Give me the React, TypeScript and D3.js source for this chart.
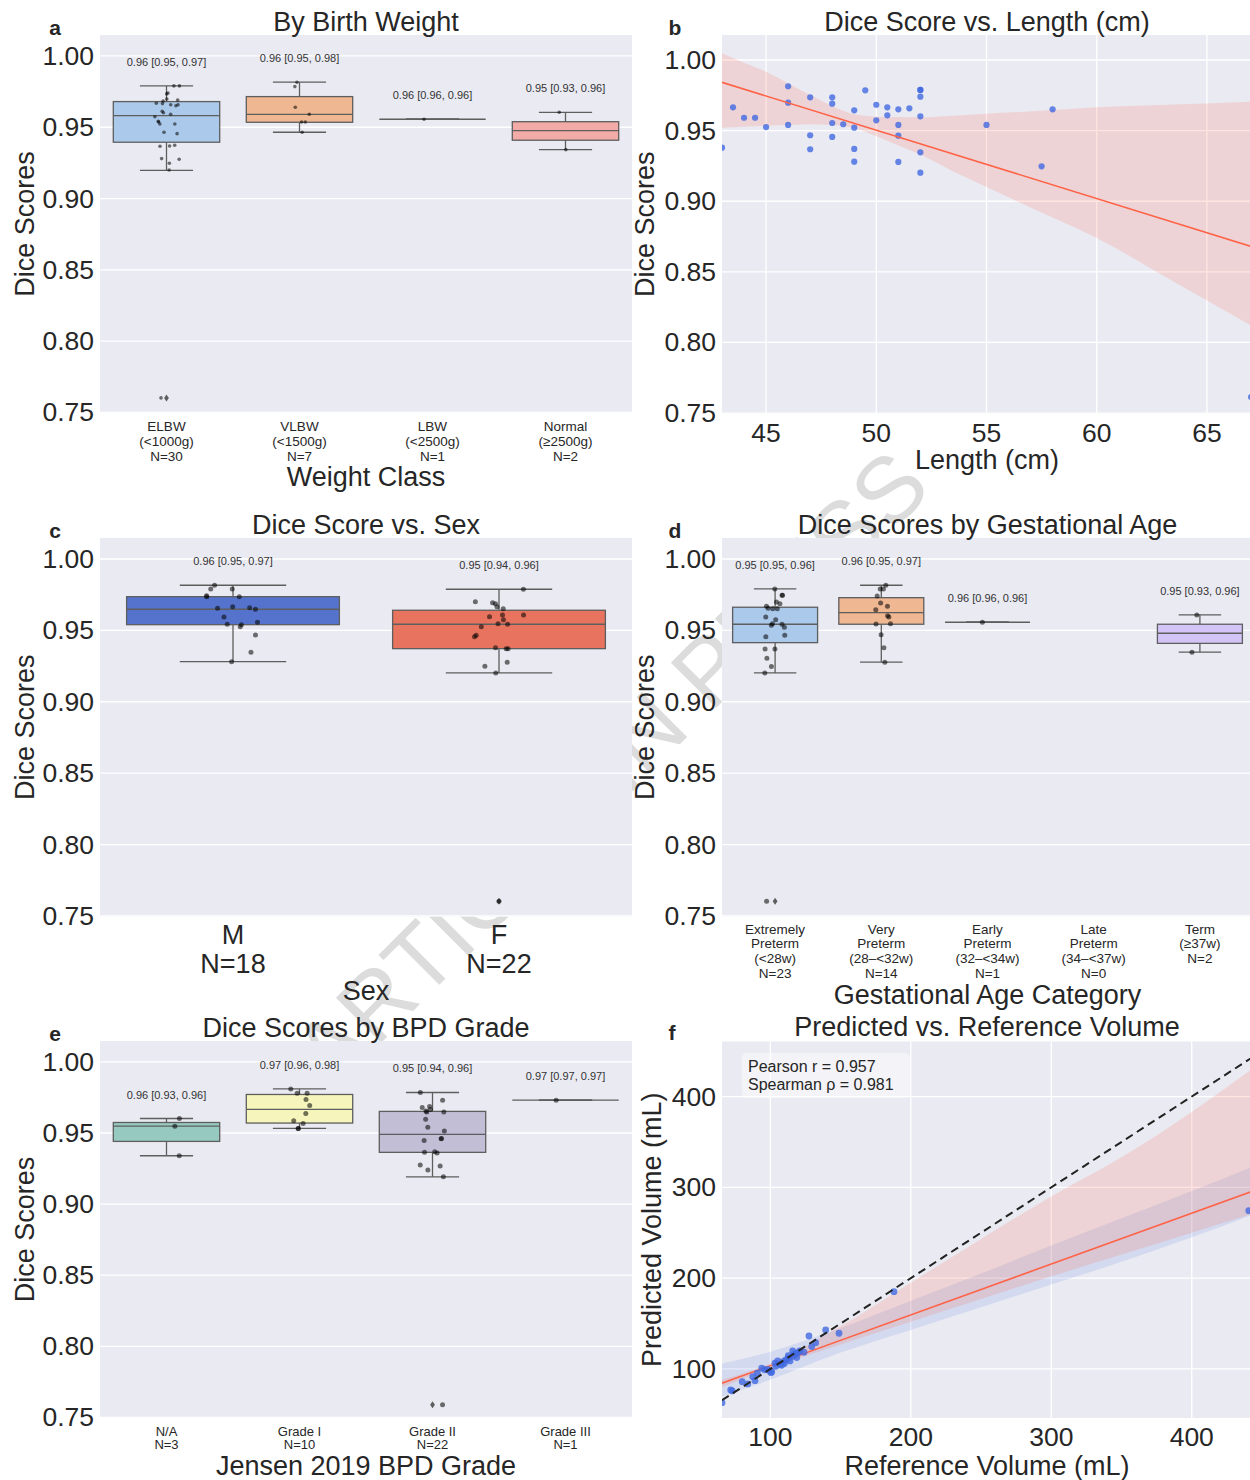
import React from "react";
import * as d3 from "d3";

const FONT = "'Liberation Sans', Arial, Helvetica, sans-serif";
const INK = "#262626";
const BG = "#EAEAF2";
const BOXLINE = "#5e5e5e";

// ---------- shared ----------
const diceTicks = [0.75, 0.8, 0.85, 0.9, 0.95, 1.0];

// ---------- a: birth weight ----------
const weightLabels = [["ELBW", "(<1000g)", "N=30"], ["VLBW", "(<1500g)", "N=7"], ["LBW", "(<2500g)", "N=1"], ["Normal", "(≥2500g)", "N=2"]];
const weightColors = ["#a1c9f4", "#ffb482", "#8de5a1", "#ff9f9b"];
const weightNotes = ["0.96 [0.95, 0.97]", "0.96 [0.95, 0.98]", "0.96 [0.96, 0.96]", "0.95 [0.93, 0.96]"];
const weightBoxes = [
  { q1: 0.9395, med: 0.9581, q3: 0.968, lo: 0.9198, hi: 0.979 },
  { q1: 0.9535, med: 0.9591, q3: 0.9715, lo: 0.9465, hi: 0.9816 },
  { q1: 0.9556, med: 0.9556, q3: 0.9556, lo: 0.9556, hi: 0.9556 },
  { q1: 0.9409, med: 0.9476, q3: 0.9539, lo: 0.9343, hi: 0.9605 },
];
const weightFliers = [[0.7602], [], [], []];
const weightPoints = [
  [0.979, 0.979, 0.9734, 0.974, 0.9691, 0.9698, 0.9684, 0.9668, 0.9658, 0.9658, 0.9651, 0.9602, 0.9591, 0.9574, 0.9542,
    0.9537, 0.9523, 0.9523, 0.9465, 0.9455, 0.9374, 0.9369, 0.9367, 0.928, 0.9276, 0.9248, 0.92, 0.7602, 0.9666, 0.9612],
  [0.9816, 0.9785, 0.964, 0.9591, 0.9537, 0.9537, 0.9465],
  [0.9556],
  [0.9605, 0.9343],
];

// ---------- b: length ----------
const lengthCm = [43, 43.5, 44, 44.5, 45, 46, 46, 46, 47, 47, 47, 48, 48, 48, 48, 48.5, 49, 49, 49, 49, 49.5, 50, 50, 50.5,
  50.5, 51, 51, 51, 51, 51.5, 52, 52, 52, 52, 52, 52, 55, 57.5, 58, 67];
const lengthDice = [0.9379, 0.9665, 0.9591, 0.9591, 0.9525, 0.9814, 0.9698, 0.954, 0.9736, 0.9467, 0.9368, 0.9736, 0.9691,
  0.9554, 0.9455, 0.9545, 0.9644, 0.9521, 0.937, 0.928, 0.9785, 0.9683, 0.9573, 0.9665, 0.9608, 0.9651, 0.954, 0.9464,
  0.9278, 0.9658, 0.9788, 0.9788, 0.974, 0.9601, 0.9346, 0.9202, 0.954, 0.9247, 0.9651, 0.7613];
const lengthTicks = [45, 50, 55, 60, 65];
const lengthFitX = [43, 67];
const lengthFitY = [0.9842, 0.868];
const lengthBandX = [43, 44, 45, 46, 47, 48, 49, 50, 51, 52, 53.5, 55, 57.5, 60, 63.5, 67];
const lengthBandHi = [1.0047, 0.998, 0.9917, 0.9835, 0.9752, 0.9674, 0.9615, 0.9599, 0.9596, 0.9594, 0.9605, 0.962, 0.964,
  0.9665, 0.9685, 0.9705];
const lengthBandLo = [0.952, 0.9528, 0.9535, 0.954, 0.9545, 0.954, 0.9518, 0.946, 0.9395, 0.933, 0.921, 0.91, 0.892, 0.874,
  0.843, 0.812];

// ---------- c: sex ----------
const sexLabels = [["M", "N=18"], ["F", "N=22"]];
const sexColors = ["royalblue", "tomato"];
const sexNotes = ["0.96 [0.95, 0.97]", "0.95 [0.94, 0.96]"];
const sexBoxes = [
  { q1: 0.954, med: 0.9648, q3: 0.9736, lo: 0.9281, hi: 0.9816 },
  { q1: 0.9372, med: 0.9543, q3: 0.9641, lo: 0.9202, hi: 0.9788 },
];
const sexFliers = [[], [0.7603]];
const sexPoints = [
  [0.979, 0.979, 0.9816, 0.9736, 0.9736, 0.9743, 0.9655, 0.9666, 0.9659, 0.9648, 0.9594, 0.9543, 0.9526, 0.9557, 0.954,
    0.9468, 0.9347, 0.9281],
  [0.9788, 0.9687, 0.9701, 0.9694, 0.9666, 0.9652, 0.9608, 0.9608, 0.9596, 0.9575, 0.9547, 0.9543, 0.9526, 0.9466, 0.9456,
    0.9372, 0.9379, 0.9372, 0.9277, 0.9249, 0.9202, 0.7603],
];

// ---------- d: gestational age ----------
const gaLabels = [
  ["Extremely", "Preterm", "(<28w)", "N=23"],
  ["Very", "Preterm", "(28–<32w)", "N=14"],
  ["Early", "Preterm", "(32–<34w)", "N=1"],
  ["Late", "Preterm", "(34–<37w)", "N=0"],
  ["Term", "(≥37w)", "N=2"],
];
const gaColors = ["#a1c9f4", "#ffb482", "#8de5a1", "#ff9f9b", "#d0bbff"];
const gaNotes = ["0.95 [0.95, 0.96]", "0.96 [0.95, 0.97]", "0.96 [0.96, 0.96]", "", "0.95 [0.93, 0.96]"];
const gaBoxes = [
  { q1: 0.9414, med: 0.9543, q3: 0.9662, lo: 0.9202, hi: 0.979 },
  { q1: 0.9543, med: 0.9624, q3: 0.9729, lo: 0.9277, hi: 0.9816 },
  { q1: 0.9557, med: 0.9557, q3: 0.9557, lo: 0.9557, hi: 0.9557 },
  null,
  { q1: 0.9409, med: 0.948, q3: 0.9543, lo: 0.9347, hi: 0.9608 },
];
const gaFliers = [[0.7603], [], [], [], []];
const gaPoints = [
  [0.979, 0.9746, 0.9746, 0.9699, 0.9687, 0.9669, 0.9655, 0.9652, 0.9652, 0.9594, 0.9575, 0.9543, 0.9536, 0.9547, 0.9522,
    0.9466, 0.9456, 0.937, 0.937, 0.9305, 0.9247, 0.9202, 0.7603],
  [0.9816, 0.979, 0.979, 0.9741, 0.9692, 0.9669, 0.9645, 0.9603, 0.9594, 0.9545, 0.9547, 0.947, 0.9379, 0.9277],
  [0.9557],
  [],
  [0.9608, 0.9347],
];

// ---------- e: BPD grade ----------
const bpdLabels = [["N/A", "N=3"], ["Grade I", "N=10"], ["Grade II", "N=22"], ["Grade III", "N=1"]];
const bpdColors = ["#8dd3c7", "#ffffb3", "#bebada", "#fb8072"];
const bpdNotes = ["0.96 [0.93, 0.96]", "0.97 [0.96, 0.98]", "0.95 [0.94, 0.96]", "0.97 [0.97, 0.97]"];
const bpdBoxes = [
  { q1: 0.9441, med: 0.9548, q3: 0.9574, lo: 0.934, hi: 0.9602 },
  { q1: 0.957, med: 0.9666, q3: 0.9771, lo: 0.9532, hi: 0.981 },
  { q1: 0.9364, med: 0.949, q3: 0.9652, lo: 0.9192, hi: 0.9785 },
  { q1: 0.9731, med: 0.9731, q3: 0.9731, lo: 0.9731, hi: 0.9731 },
];
const bpdFliers = [[], [], [0.759], []];
const bpdPoints = [
  [0.9602, 0.9548, 0.934],
  [0.981, 0.978, 0.978, 0.9736, 0.9694, 0.9638, 0.9586, 0.9567, 0.9532, 0.9532],
  [0.9785, 0.9731, 0.9687, 0.968, 0.9666, 0.9647, 0.9654, 0.9647, 0.9596, 0.9541, 0.9515, 0.9459, 0.9448, 0.9462, 0.9364,
    0.9359, 0.9368, 0.9275, 0.9268, 0.924, 0.9192, 0.759],
  [0.9731],
];

// ---------- f: volumes ----------
const refVolume = [65.6, 71.8, 72.9, 80, 83.9, 87.5, 89.1, 90.7, 93.9, 99.3, 100.5, 101, 103.3, 105.3, 106.9, 108, 109.3, 111,
  112.8, 114, 115.9, 117, 118.3, 118.8, 120, 124, 127.5, 129.5, 132.3, 139.4, 148.9, 188, 440.6, 96, 104, 113, 116, 121, 98, 110];
const predVolume = [62.9, 76.9, 75.8, 86, 83.5, 91.5, 87.1, 95.3, 100.8, 98.1, 95.9, 97, 106.3, 108.8, 105.2, 104, 108, 110,
  114.6, 108.8, 119.8, 116, 117.3, 112.5, 118, 118.4, 136.3, 124.6, 129, 143, 139.3, 185.1, 274.3, 99, 103, 112, 114, 120, 99.5, 106];
const volTicks = [100, 200, 300, 400];
const volFitX = [65.6, 443.6];
const volFitY = [84.3, 296];
const volBandX = [65.6, 100, 150, 200, 250, 300, 350, 400, 443.6];
const volRedHi = [88, 106, 147, 195, 243, 290, 333, 383, 431];
const volRedLo = [80, 101, 127, 152, 177, 202, 226, 250, 271];
const volBlueHi = [106, 119, 145, 175, 205, 236, 266, 296, 323];
const volBlueLo = [69.5, 88, 118, 143, 168, 193, 218, 245, 270];
const statLines = ["Pearson r = 0.957", "Spearman ρ = 0.981"];

const desat = (c: string, f = 0.75) => {
  const h = d3.hsl(c);
  h.s *= f;
  return h.formatHex();
};

type Box = { q1: number; med: number; q3: number; lo: number; hi: number } | null;

function Title({ x, y, text, letter, lx }: any) {
  return (
    <g fontFamily={FONT} fill={INK}>
      <text x={x} y={y} fontSize={27} textAnchor="middle" dominantBaseline="central">{text}</text>
      <text x={lx} y={y + 5} fontSize={21} fontWeight="bold" textAnchor="middle" dominantBaseline="central">{letter}</text>
    </g>
  );
}

function YAxis({ y, ticks, left, right, fmt, label, labelX }: any) {
  const [b, t] = y.range();
  return (
    <g fontFamily={FONT} fill={INK}>
      {ticks.map((v: number) => (
        <g key={v}>
          <line x1={left} x2={right} y1={y(v)} y2={y(v)} stroke="#fff" strokeWidth={1.3} />
          <text x={left - 6} y={y(v)} fontSize={26.5} textAnchor="end" dominantBaseline="central">{fmt(v)}</text>
        </g>
      ))}
      <text transform={`translate(${labelX},${(b + t) / 2}) rotate(-90)`} fontSize={27} textAnchor="middle" dominantBaseline="central">{label}</text>
    </g>
  );
}

function BoxPanel(p: any) {
  const { left, right, top, bottom, labels, colors, boxes, fliers, points, notes, dotR, seed } = p;
  const x = d3.scaleBand().domain(labels.map((_: any, i: number) => String(i))).range([left, right]);
  const y = d3.scaleLinear().domain([0.7496, 1.0147]).range([bottom, top]);
  const bw = x.bandwidth();
  const rng = d3.randomLcg(seed);
  return (
    <g>
      <rect x={left} y={top} width={right - left} height={bottom - top} fill={BG} />
      <YAxis y={y} ticks={diceTicks} left={left} right={right} fmt={d3.format(".2f")} label="Dice Scores" labelX={p.yLabelX} />
      {labels.map((lab: string[], i: number) => {
        const cx = (x(String(i)) as number) + bw / 2;
        const bx: Box = boxes[i];
        const fill = desat(colors[i]);
        return (
          <g key={i}>
            {bx && (
              <g stroke={BOXLINE} strokeWidth={1.3}>
                <line x1={cx} x2={cx} y1={y(bx.hi)} y2={y(bx.q3)} />
                <line x1={cx} x2={cx} y1={y(bx.q1)} y2={y(bx.lo)} />
                <line x1={cx - bw * 0.2} x2={cx + bw * 0.2} y1={y(bx.hi)} y2={y(bx.hi)} />
                <line x1={cx - bw * 0.2} x2={cx + bw * 0.2} y1={y(bx.lo)} y2={y(bx.lo)} />
                <rect x={cx - bw * 0.4} y={y(bx.q3)} width={bw * 0.8} height={Math.max(0, y(bx.q1) - y(bx.q3))} fill={fill} />
                <line x1={cx - bw * 0.4} x2={cx + bw * 0.4} y1={y(bx.med)} y2={y(bx.med)} />
              </g>
            )}
            {fliers[i].map((v: number, k: number) => (
              <path key={"f" + k} d={`M${cx},${y(v) - 3.5}L${cx + 2.4},${y(v)}L${cx},${y(v) + 3.5}L${cx - 2.4},${y(v)}Z`} fill={BOXLINE} />
            ))}
            {points[i].map((v: number, k: number) => {
              const j = (rng() - 0.5) * 0.2 * bw;
              return <circle key={k} cx={cx + j} cy={y(v)} r={dotR} fill="#000" fillOpacity={0.55} />;
            })}
            {bx && notes[i] && (
              <text x={cx} y={y(bx.hi) - 24} fontFamily={FONT} fontSize={11} fill="#333" textAnchor="middle" dominantBaseline="central">{notes[i]}</text>
            )}
            {lab.map((s: string, k: number) => (
              <text key={"l" + k} x={cx} y={bottom + p.labelOffset + k * p.lineStep} fontFamily={FONT} fontSize={p.labelSize} fill={INK} textAnchor="middle" dominantBaseline="central">{s}</text>
            ))}
          </g>
        );
      })}
      <text x={(left + right) / 2} y={p.xlabelY} fontFamily={FONT} fontSize={27} fill={INK} textAnchor="middle" dominantBaseline="central">{p.xlabel}</text>
      <Title x={(left + right) / 2} y={top - 13} text={p.title} letter={p.letter} lx={p.letterX} />
    </g>
  );
}

function LengthPanel() {
  const left = 722, right = 1253, top = 35, bottom = 413.5;
  const x = d3.scaleLinear().domain([43, 67]).range([left, 1251]);
  const y = d3.scaleLinear().domain([0.7497, 1.0177]).range([bottom, top]);
  const band = d3.area<number>().x((_, i) => x(lengthBandX[i])).y0((_, i) => y(lengthBandLo[i])).y1((_, i) => y(lengthBandHi[i])).curve(d3.curveMonotoneX);
  const fit = d3.line<number>().x((_, i) => x(lengthFitX[i])).y((d) => y(d));
  return (
    <g>
      <defs>
        <clipPath id="clipB"><rect x={left} y={top} width={right - left} height={bottom - top} /></clipPath>
      </defs>
      <rect x={left} y={top} width={right - left} height={bottom - top} fill={BG} />
      {lengthTicks.map((t) => (
        <g key={t}>
          <line x1={x(t)} x2={x(t)} y1={top} y2={bottom} stroke="#fff" strokeWidth={1.3} />
          <text x={x(t)} y={bottom + 19} fontFamily={FONT} fontSize={26.5} fill={INK} textAnchor="middle" dominantBaseline="central">{t}</text>
        </g>
      ))}
      <YAxis y={y} ticks={diceTicks} left={left} right={right} fmt={d3.format(".2f")} label="Dice Scores" labelX={645} />
      <g clipPath="url(#clipB)">
        <path d={band(lengthBandX) as string} fill="tomato" fillOpacity={0.17} />
        {lengthCm.map((l, i) => (
          <circle key={i} cx={x(l)} cy={y(lengthDice[i])} r={3.1} fill="royalblue" fillOpacity={0.8} />
        ))}
        <path d={fit(lengthFitY) as string} stroke="tomato" strokeWidth={1.6} fill="none" />
      </g>
      <text x={(left + 1250) / 2 + 1} y={460} fontFamily={FONT} fontSize={27} fill={INK} textAnchor="middle" dominantBaseline="central">Length (cm)</text>
      <Title x={987} y={22} text="Dice Score vs. Length (cm)" letter="b" lx={675} />
    </g>
  );
}

function VolumePanel() {
  const left = 722, right = 1253, top = 1041.5, bottom = 1418;
  const x = d3.scaleLinear().domain([65.6, 443.6]).range([left, right]);
  const y = d3.scaleLinear().domain([46, 460.6]).range([bottom, top]);
  const area = (hi: number[], lo: number[]) =>
    d3.area<number>().x((d) => x(d)).y0((_, i) => y(lo[i])).y1((_, i) => y(hi[i])).curve(d3.curveMonotoneX)(volBandX) as string;
  const fit = d3.line<number>().x((_, i) => x(volFitX[i])).y((d) => y(d));
  const ident = [x.domain()[0], x.domain()[1]];
  return (
    <g>
      <defs>
        <clipPath id="clipF"><rect x={left} y={top} width={right - left} height={bottom - top} /></clipPath>
      </defs>
      <rect x={left} y={top} width={right - left} height={bottom - top} fill={BG} />
      {volTicks.map((t) => (
        <g key={t}>
          <line x1={x(t)} x2={x(t)} y1={top} y2={bottom} stroke="#fff" strokeWidth={1.3} />
          <text x={x(t)} y={bottom + 19} fontFamily={FONT} fontSize={26.5} fill={INK} textAnchor="middle" dominantBaseline="central">{t}</text>
        </g>
      ))}
      <YAxis y={y} ticks={volTicks} left={left} right={right} fmt={(v: number) => String(v)} label="Predicted Volume (mL)" labelX={652} />
      <g clipPath="url(#clipF)">
        <path d={area(volBlueHi, volBlueLo)} fill="royalblue" fillOpacity={0.13} />
        <path d={area(volRedHi, volRedLo)} fill="tomato" fillOpacity={0.17} />
        <path d={fit(volFitY) as string} stroke="tomato" strokeWidth={1.6} fill="none" />
        {refVolume.map((r, i) => (
          <circle key={i} cx={x(r)} cy={y(predVolume[i])} r={3.4} fill="royalblue" fillOpacity={0.8} />
        ))}
        <line x1={x(ident[0])} y1={y(ident[0])} x2={x(ident[1])} y2={y(ident[1])} stroke="#222" strokeWidth={2} strokeDasharray="8,5" />
      </g>
      <rect x={742} y={1053} width={168} height={45} rx={5} fill="#fff" fillOpacity={0.45} />
      {statLines.map((s, i) => (
        <text key={i} x={748} y={1066 + i * 18} fontFamily={FONT} fontSize={16} fill={INK} dominantBaseline="central">{s}</text>
      ))}
      <text x={987} y={1466} fontFamily={FONT} fontSize={27} fill={INK} textAnchor="middle" dominantBaseline="central">Reference Volume (mL)</text>
      <Title x={987} y={1027} text="Predicted vs. Reference Volume" letter="f" lx={672} />
    </g>
  );
}

export default function App() {
  return (
    <svg width={1250} height={1480} style={{ display: "block", position: "absolute", left: 0, top: 0 }}>
      <rect width={1250} height={1480} fill="#fff" />
      <text transform="translate(332,1092) rotate(-45)" fontFamily={FONT} fontSize={93} fill="#dcdcdc">ARTICLE IN PRESS</text>
      <BoxPanel left={100} right={632} top={35} bottom={413} labels={weightLabels} colors={weightColors} boxes={weightBoxes}
        fliers={weightFliers} points={weightPoints} notes={weightNotes} dotR={1.8} seed={0.11}
        labelSize={13.5} labelOffset={13.5} lineStep={15} xlabel="Weight Class" xlabelY={477} yLabelX={25}
        title="By Birth Weight" letter="a" letterX={55} />
      <LengthPanel />
      <BoxPanel left={100} right={632} top={538} bottom={916.5} labels={sexLabels} colors={sexColors} boxes={sexBoxes}
        fliers={sexFliers} points={sexPoints} notes={sexNotes} dotR={2.5} seed={0.37}
        labelSize={27} labelOffset={18} lineStep={29} xlabel="Sex" xlabelY={991} yLabelX={25}
        title="Dice Score vs. Sex" letter="c" letterX={55} />
      <BoxPanel left={722} right={1253} top={538} bottom={916.5} labels={gaLabels} colors={gaColors} boxes={gaBoxes}
        fliers={gaFliers} points={gaPoints} notes={gaNotes} dotR={2.5} seed={0.53}
        labelSize={13.5} labelOffset={12.5} lineStep={14.7} xlabel="Gestational Age Category" xlabelY={995} yLabelX={645}
        title="Dice Scores by Gestational Age" letter="d" letterX={675} />
      <BoxPanel left={100} right={632} top={1041} bottom={1418} labels={bpdLabels} colors={bpdColors} boxes={bpdBoxes}
        fliers={bpdFliers} points={bpdPoints} notes={bpdNotes} dotR={2.5} seed={0.71}
        labelSize={13} labelOffset={13.5} lineStep={13.3} xlabel="Jensen 2019 BPD Grade" xlabelY={1466} yLabelX={25}
        title="Dice Scores by BPD Grade" letter="e" letterX={55} />
      <VolumePanel />
    </svg>
  );
}
